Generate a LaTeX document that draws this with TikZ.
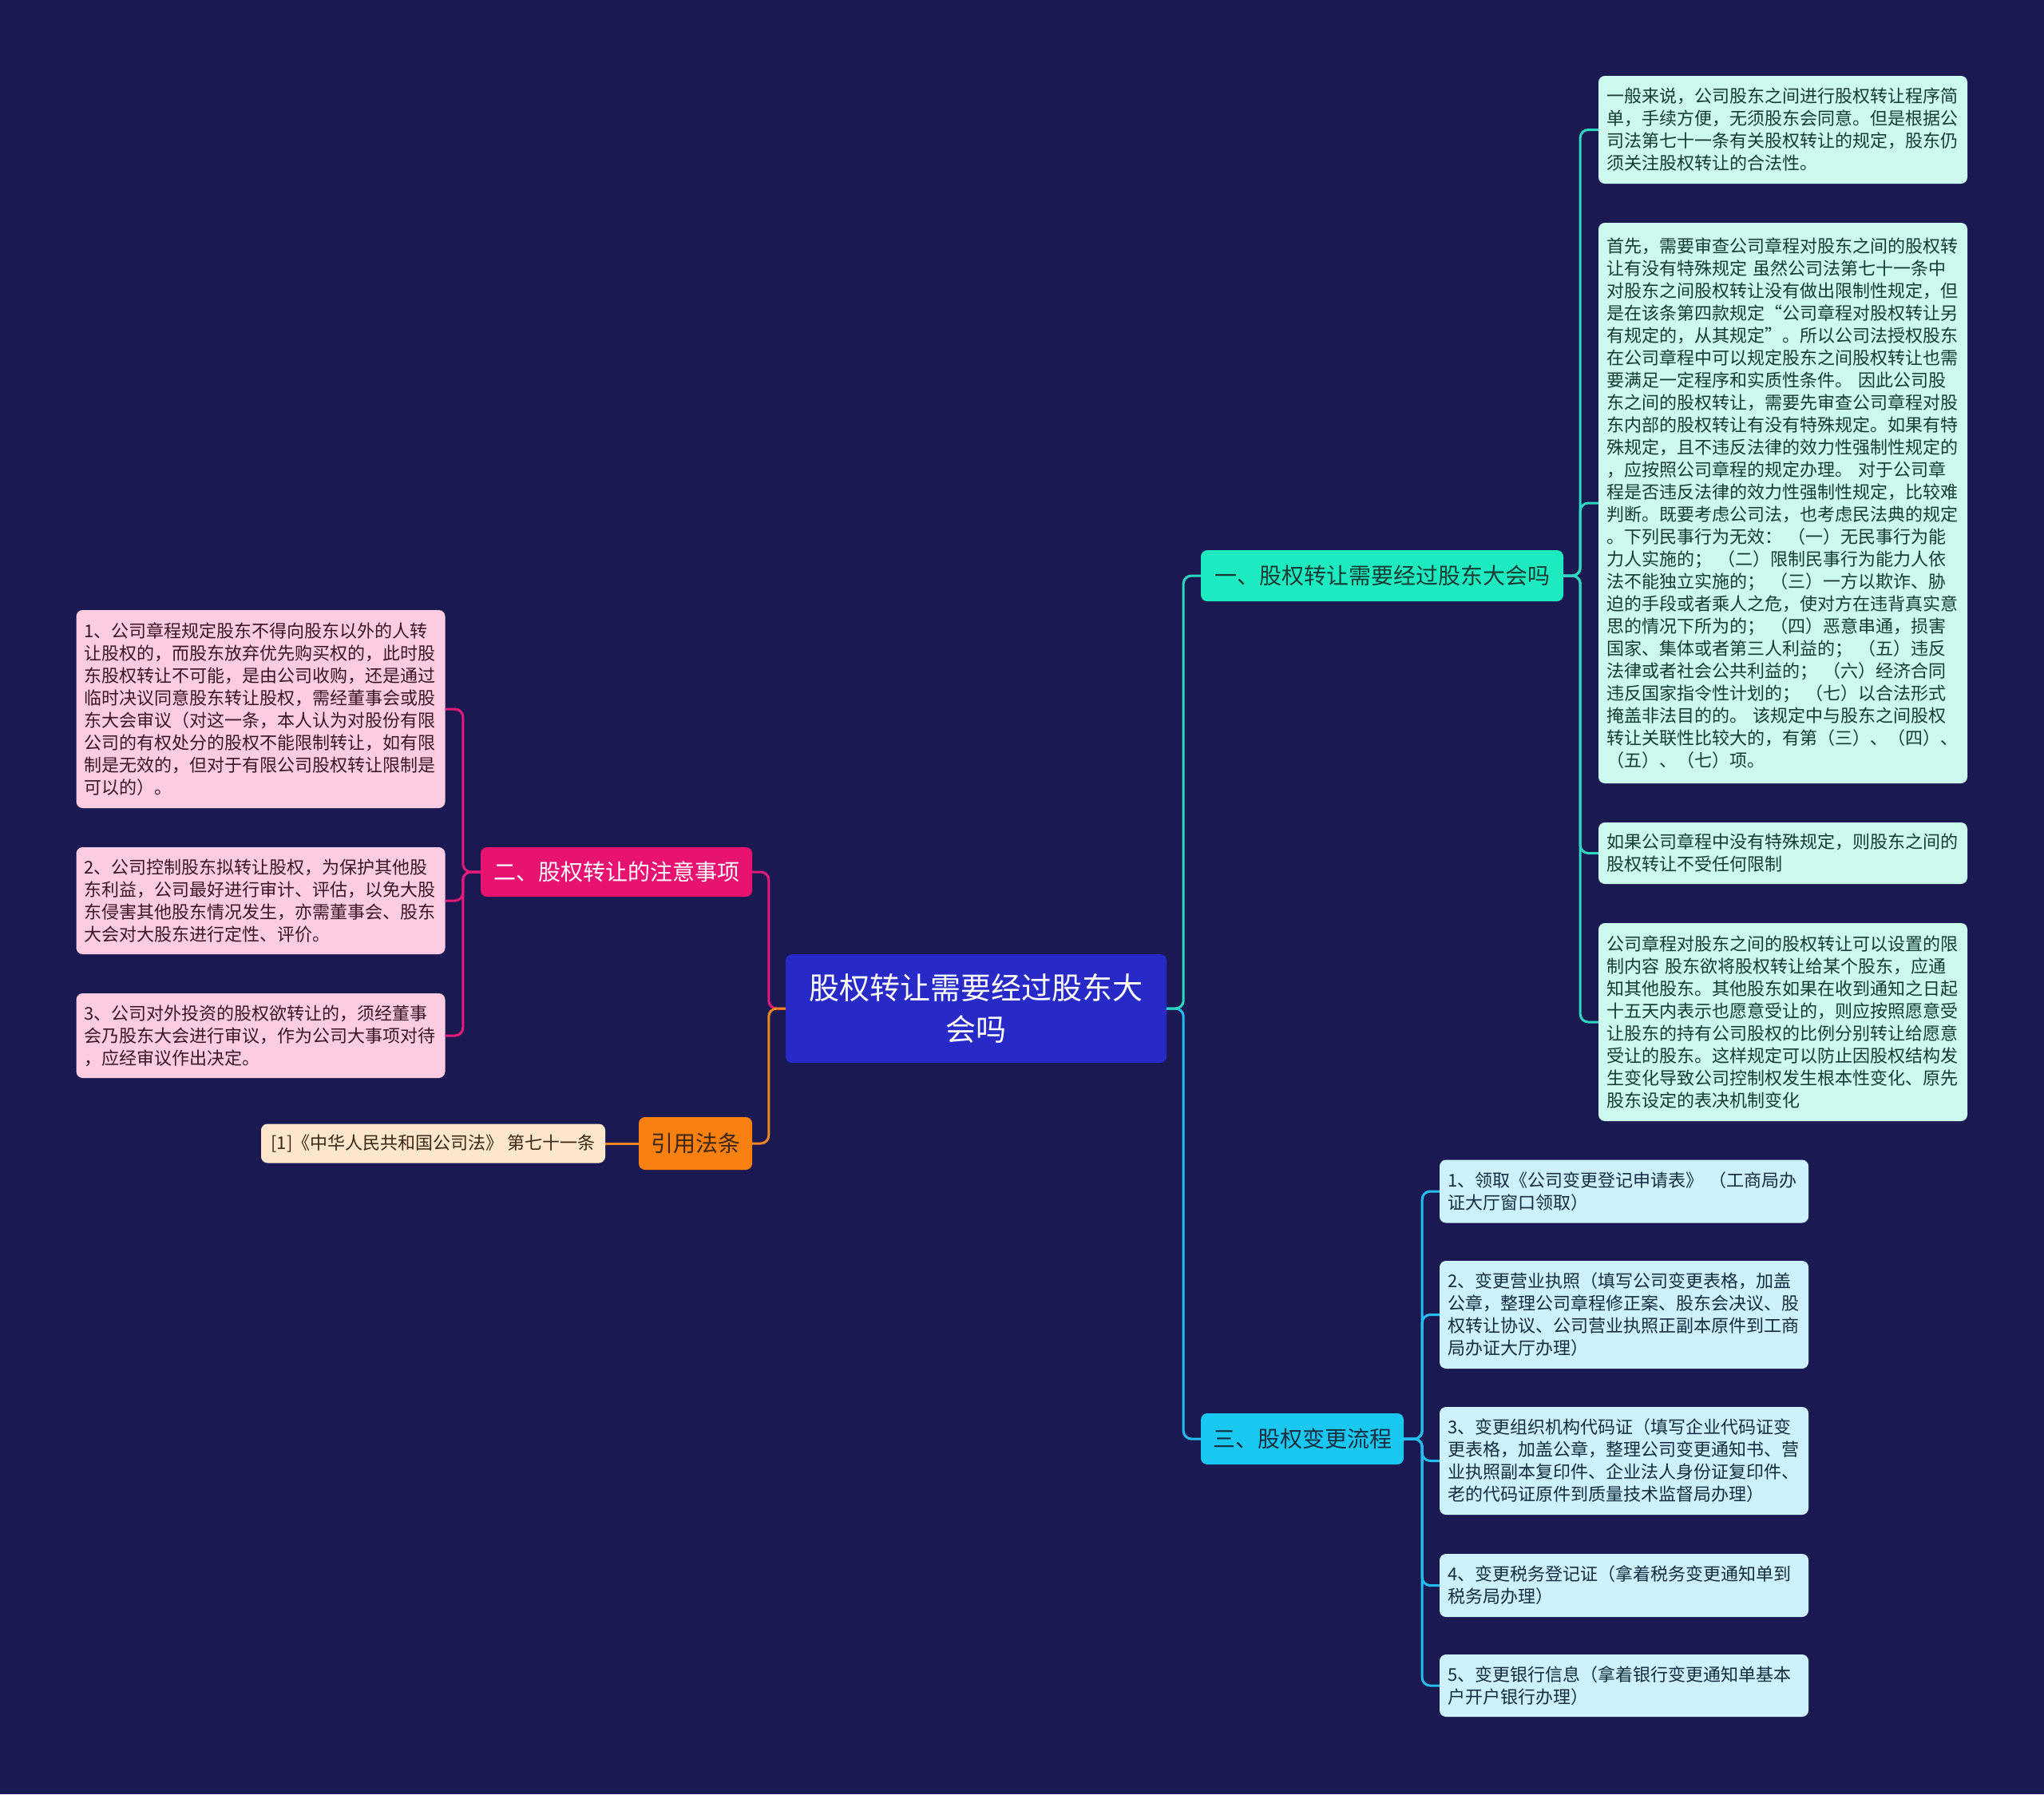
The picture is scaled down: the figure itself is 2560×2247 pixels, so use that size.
\documentclass[tikz,border=0pt]{standalone}
\usepackage{fontspec}
\setmainfont{Noto Sans CJK SC}
\definecolor{bg}{RGB}{27,25,82}
\definecolor{cfill}{RGB}{40,42,200}
\definecolor{aqfill}{RGB}{30,234,192}
\definecolor{aqbox}{RGB}{205,250,238}
\definecolor{bluefill}{RGB}{25,200,240}
\definecolor{bluebox}{RGB}{205,242,252}
\definecolor{magfill}{RGB}{232,18,112}
\definecolor{pinkbox}{RGB}{252,205,226}
\definecolor{orfill}{RGB}{250,128,15}
\definecolor{peachbox}{RGB}{253,231,204}
\definecolor{aqline}{RGB}{45,215,192}
\definecolor{blueline}{RGB}{35,190,238}
\definecolor{magline}{RGB}{228,25,120}
\definecolor{orline}{RGB}{240,135,30}
\definecolor{aqtext}{RGB}{20,60,52}
\definecolor{bluetext}{RGB}{20,45,65}
\definecolor{pinktext}{RGB}{60,20,40}
\definecolor{peachtext}{RGB}{60,40,20}
\tikzset{
  leaf/.style={rounded corners=8pt, inner xsep=10pt, inner ysep=0pt, align=left,
    text width=442pt, font=\fontsize{22}{28}\selectfont},
  aqleaf/.style={leaf, fill=aqbox, text=aqtext},
  blueleaf/.style={leaf, fill=bluebox, text=bluetext},
  pinkleaf/.style={leaf, fill=pinkbox, text=pinktext},
  topic/.style={rounded corners=8pt, inner sep=0pt, align=center,
    font=\fontsize{28}{34}\selectfont},
  conn/.style={line width=3pt, rounded corners=10pt}
}
\begin{document}
\begin{tikzpicture}[x=1pt,y=-1pt]
\fill[bg] (0,0) rectangle (2560,2247);
\useasboundingbox (0,0) rectangle (2560,2247);

% central
\node[rounded corners=8pt, fill=cfill, text=white, align=center, inner sep=0pt,
  font=\fontsize{38}{52}\selectfont, minimum width=477pt, minimum height=136pt]
  (c) at (1222.5,1263) {股权转让需要经过股东大\\会吗};

% main topics
\node[topic, fill=aqfill, text=aqtext, minimum width=454pt, minimum height=64pt]
  (t1) at (1731,721) {一、股权转让需要经过股东大会吗};
\node[topic, fill=bluefill, text=bluetext, minimum width=254pt, minimum height=64pt]
  (t3) at (1631,1802) {三、股权变更流程};
\node[topic, fill=magfill, text=white, minimum width=340pt, minimum height=62pt]
  (t2) at (772,1092) {二、股权转让的注意事项};
\node[topic, fill=orfill, text=peachtext, minimum width=142pt, minimum height=66pt]
  (t4) at (871,1432) {引用法条};

% right leaves of topic 1
\node[aqleaf, minimum height=135pt] (r1) at (2233,162.5) {一般来说，公司股东之间进行股权转让程序简\\单，手续方便，无须股东会同意。但是根据公\\司法第七十一条有关股权转让的规定，股东仍\\须关注股权转让的合法性。};
\node[aqleaf, minimum height=702pt] (r2) at (2233,630) {首先，需要审查公司章程对股东之间的股权转\\让有没有特殊规定 虽然公司法第七十一条中\\对股东之间股权转让没有做出限制性规定，但\\是在该条第四款规定“公司章程对股权转让另\\有规定的，从其规定”。所以公司法授权股东\\在公司章程中可以规定股东之间股权转让也需\\要满足一定程序和实质性条件。 因此公司股\\东之间的股权转让，需要先审查公司章程对股\\东内部的股权转让有没有特殊规定。如果有特\\殊规定，且不违反法律的效力性强制性规定的\\，应按照公司章程的规定办理。 对于公司章\\程是否违反法律的效力性强制性规定，比较难\\判断。既要考虑公司法，也考虑民法典的规定\\。下列民事行为无效： （一）无民事行为能\\力人实施的； （二）限制民事行为能力人依\\法不能独立实施的； （三）一方以欺诈、胁\\迫的手段或者乘人之危，使对方在违背真实意\\思的情况下所为的； （四）恶意串通，损害\\国家、集体或者第三人利益的； （五）违反\\法律或者社会公共利益的； （六）经济合同\\违反国家指令性计划的； （七）以合法形式\\掩盖非法目的的。 该规定中与股东之间股权\\转让关联性比较大的，有第（三）、（四）、\\（五）、（七）项。};
\node[aqleaf, minimum height=77pt] (r3) at (2233,1068.5) {如果公司章程中没有特殊规定，则股东之间的\\股权转让不受任何限制};
\node[aqleaf, minimum height=248pt] (r4) at (2233,1280) {公司章程对股东之间的股权转让可以设置的限\\制内容 股东欲将股权转让给某个股东，应通\\知其他股东。其他股东如果在收到通知之日起\\十五天内表示也愿意受让的，则应按照愿意受\\让股东的持有公司股权的比例分别转让给愿意\\受让的股东。这样规定可以防止因股权结构发\\生变化导致公司控制权发生根本性变化、原先\\股东设定的表决机制变化};

% steps of topic 3
\node[blueleaf, minimum height=79pt] (s1) at (2034,1492) {1、领取《公司变更登记申请表》 （工商局办\\证大厅窗口领取）};
\node[blueleaf, minimum height=135pt] (s2) at (2034,1646.5) {2、变更营业执照（填写公司变更表格，加盖\\公章，整理公司章程修正案、股东会决议、股\\权转让协议、公司营业执照正副本原件到工商\\局办证大厅办理）};
\node[blueleaf, minimum height=135pt] (s3) at (2034,1829.5) {3、变更组织机构代码证（填写企业代码证变\\更表格，加盖公章，整理公司变更通知书、营\\业执照副本复印件、企业法人身份证复印件、\\老的代码证原件到质量技术监督局办理）};
\node[blueleaf, minimum height=79pt] (s4) at (2034,1985.5) {4、变更税务登记证（拿着税务变更通知单到\\税务局办理）};
\node[blueleaf, minimum height=78pt] (s5) at (2034,2111) {5、变更银行信息（拿着银行变更通知单基本\\户开户银行办理）};

% left leaves of topic 2
\node[pinkleaf, minimum height=248pt] (p1) at (326.5,888) {1、公司章程规定股东不得向股东以外的人转\\让股权的，而股东放弃优先购买权的，此时股\\东股权转让不可能，是由公司收购，还是通过\\临时决议同意股东转让股权，需经董事会或股\\东大会审议（对这一条，本人认为对股份有限\\公司的有权处分的股权不能限制转让，如有限\\制是无效的，但对于有限公司股权转让限制是\\可以的）。};
\node[pinkleaf, minimum height=134pt] (p2) at (326.5,1128) {2、公司控制股东拟转让股权，为保护其他股\\东利益，公司最好进行审计、评估，以免大股\\东侵害其他股东情况发生，亦需董事会、股东\\大会对大股东进行定性、评价。};
\node[pinkleaf, minimum height=106pt] (p3) at (326.5,1297) {3、公司对外投资的股权欲转让的，须经董事\\会乃股东大会进行审议，作为公司大事项对待\\，应经审议作出决定。};

% citation
\node[rounded corners=8pt, fill=peachbox, text=peachtext, inner sep=0pt,
  font=\fontsize{22}{28}\selectfont, minimum width=431pt, minimum height=49pt]
  (cite) at (542.5,1432) {[1]《中华人民共和国公司法》 第七十一条};

% connectors
\draw[conn, draw=blueline] (c.east) -- ++(21,0) |- (t3.west);
\draw[conn, draw=aqline] (c.east) -- ++(21,0) |- (t1.west);
\draw[conn, draw=magline] (c.west) -- ++(-21,0) |- (t2.east);
\draw[conn, draw=orline] (c.west) -- ++(-21,0) |- (t4.east);

\foreach \n in {r1,r2,r3,r4}
  \draw[conn, draw=aqline] (t1.east) -- ++(21,0) |- (\n.west);
\foreach \n in {s1,s2,s3,s4,s5}
  \draw[conn, draw=blueline] (t3.east) -- ++(23,0) |- (\n.west);
\foreach \n in {p1,p2,p3}
  \draw[conn, draw=magline] (t2.west) -- ++(-22,0) |- (\n.east);
\draw[conn, draw=orline] (t4.west) -- (cite.east);
\end{tikzpicture}
\end{document}
